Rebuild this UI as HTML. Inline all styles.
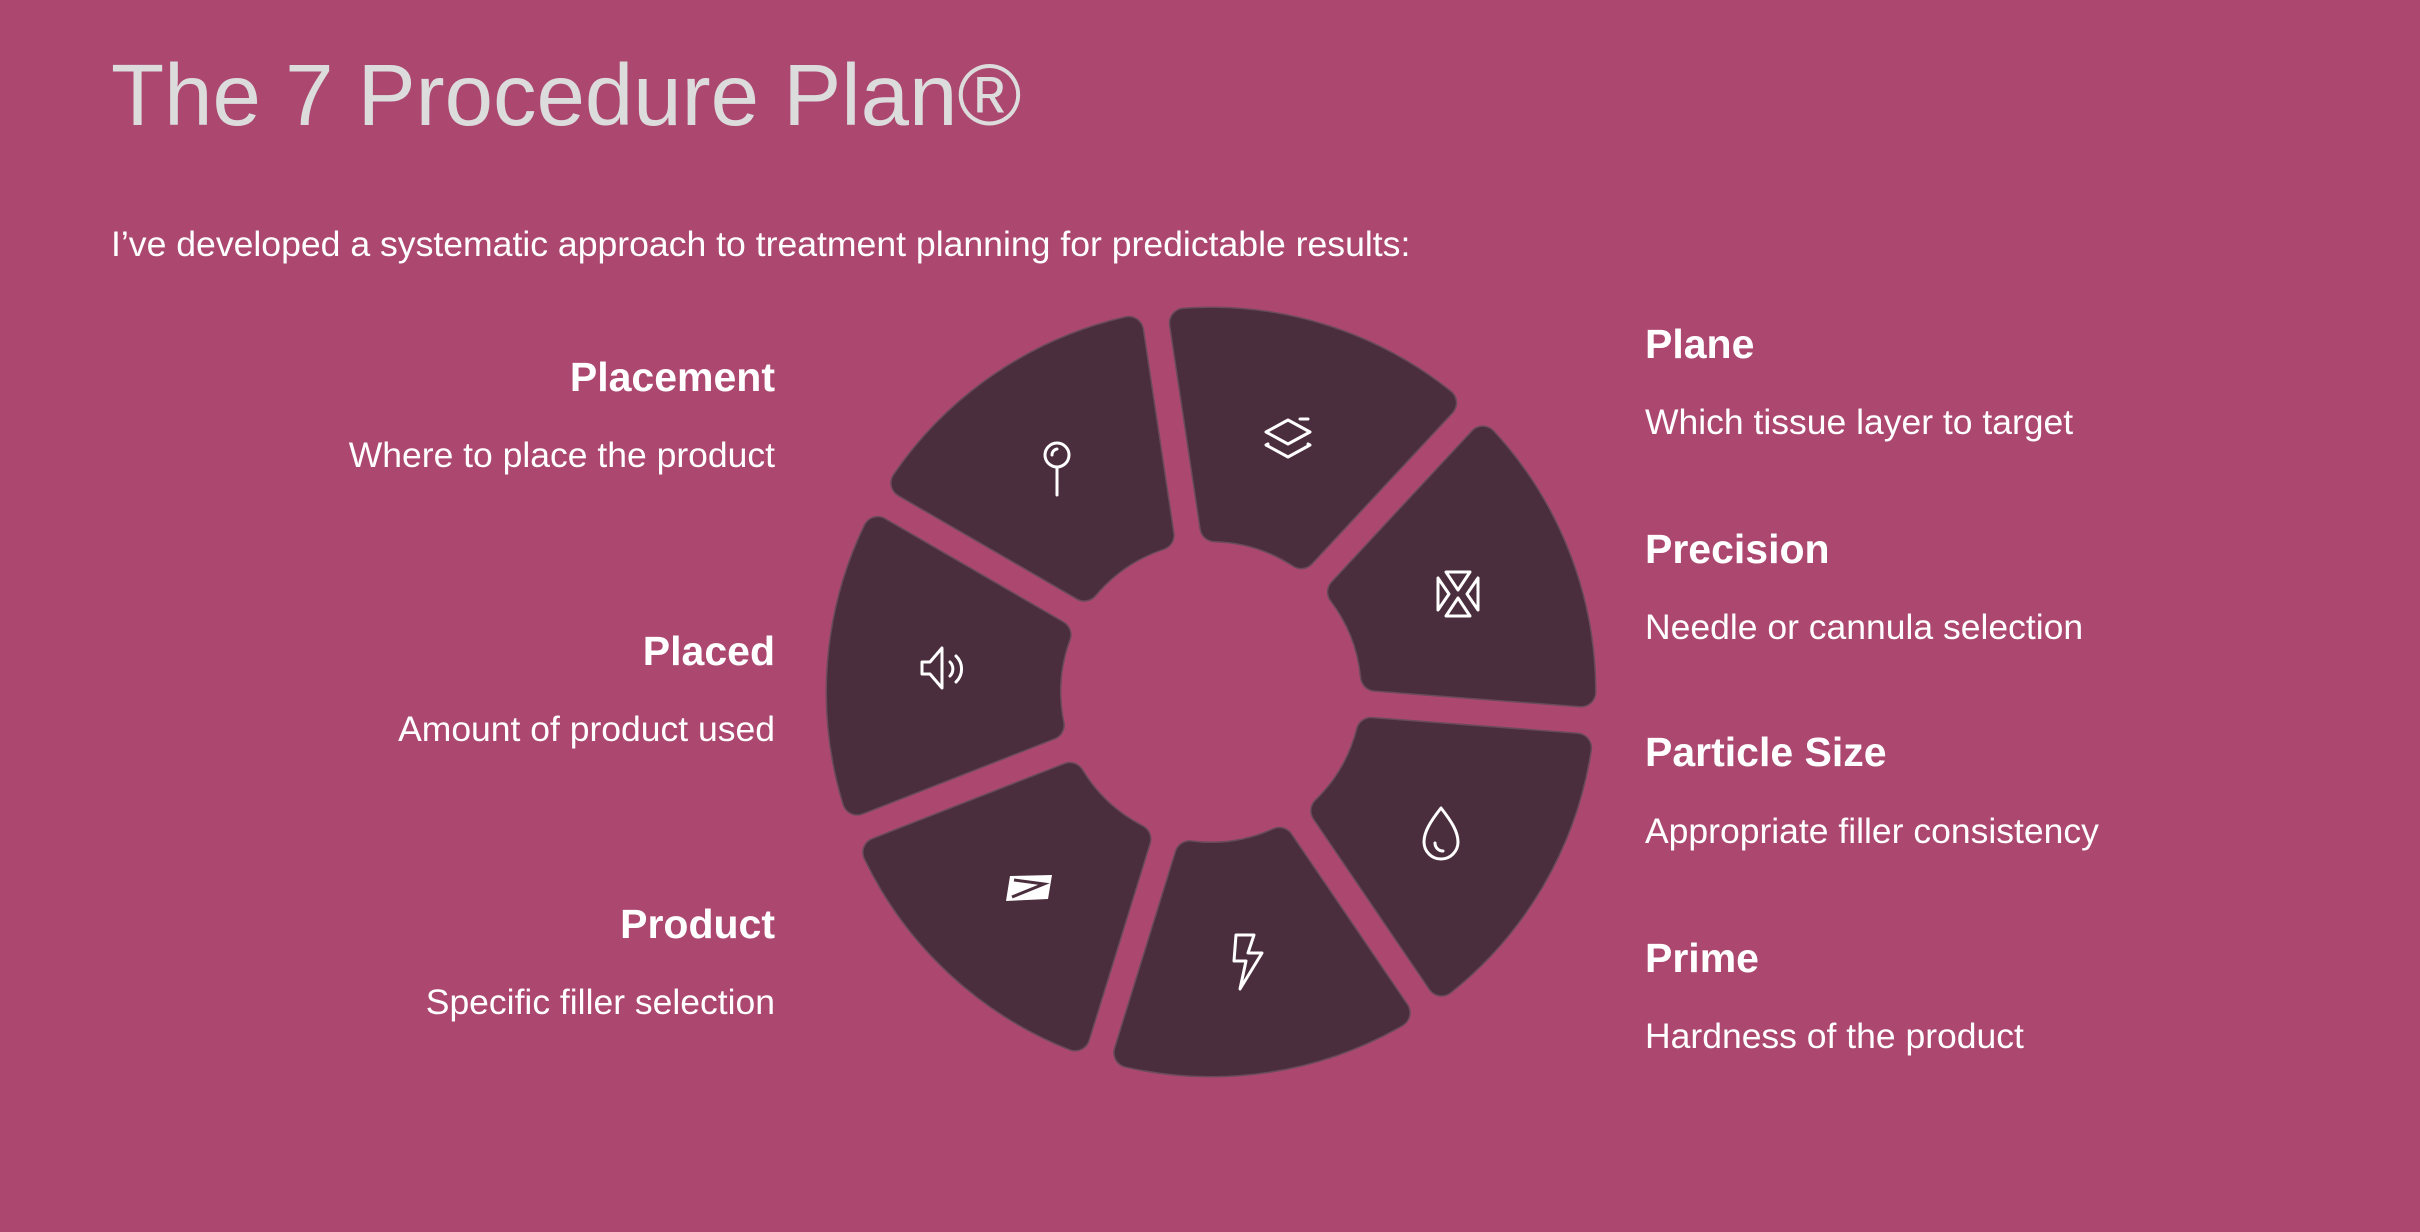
<!DOCTYPE html>
<html><head><meta charset="utf-8"><style>
html,body{margin:0;padding:0}
body{width:2420px;height:1232px;background:#ac4870;position:relative;overflow:hidden;font-family:"Liberation Sans",sans-serif;color:#fff}
.t{position:absolute;white-space:nowrap}
.h{font-size:41px;font-weight:bold}
.d{font-size:35.5px}
.l{right:1645px}
.r{left:1645px}
</style></head><body>
<div class="t" style="left:111px;top:46px;font-size:87px;color:#dcdcdc">The 7 Procedure Plan®</div>
<div class="t" style="left:111px;top:224px;font-size:35.6px">I’ve developed a systematic approach to treatment planning for predictable results:</div>

<div class="t h" style="right:1645px;top:354px">Placement</div>
<div class="t d" style="right:1645px;top:435px">Where to place the product</div>
<div class="t h" style="right:1645px;top:628px">Placed</div>
<div class="t d" style="right:1645px;top:709px">Amount of product used</div>
<div class="t h" style="right:1645px;top:901px">Product</div>
<div class="t d" style="right:1645px;top:982px">Specific filler selection</div>

<div class="t h r" style="top:321px">Plane</div>
<div class="t d r" style="top:402px">Which tissue layer to target</div>
<div class="t h r" style="top:526px">Precision</div>
<div class="t d r" style="top:607px">Needle or cannula selection</div>
<div class="t h r" style="top:729px">Particle Size</div>
<div class="t d r" style="top:811px">Appropriate filler consistency</div>
<div class="t h r" style="top:935px">Prime</div>
<div class="t d r" style="top:1016px">Hardness of the product</div>

<svg id="w" width="2420" height="1232" style="position:absolute;left:0;top:0">
<g id="segs"></g>
<g fill="none" stroke="#fff" stroke-width="3" stroke-linecap="round" stroke-linejoin="round">
 <circle cx="1057" cy="455" r="12"/><line x1="1057" y1="467" x2="1057" y2="495"/><path d="M1052 455 a6 6 0 0 1 5 -6"/>
 <path d="M1266 432 l22 -12 l22 12 l-22 12 z"/><path d="M1268 444 l-2 1 l22 12 l22 -12 l-2 -1"/><line x1="1300" y1="419" x2="1308" y2="419"/>
 <path d="M1446 572 h24 l-12 18 z M1446 616 h24 l-12 -18 z M1438 578 v32 l11 -16 z M1478 578 v32 l-11 -16 z"/>
 <path d="M1441 808 C1430 822 1424 832 1424 842 a17 17 0 0 0 34 0 C1458 832 1452 822 1441 808 z"/><path d="M1435 843 a8 8 0 0 0 8 8"/>
 <path d="M1236 935 h18 l-6 18 h14 l-22 36 l6 -28 h-12 z"/>
 <path d="M922 662 h8 l12 -14 v40 l-12 -14 h-8 z"/><path d="M950 662 a10 10 0 0 1 0 14"/><path d="M956 656 a18 18 0 0 1 0 26"/>
</g>
<path d="M1010 876 l42 -1 l-4 24 l-42 2 z" fill="#fff"/>
<path d="M1014 880 l30 4 l-32 13" fill="none" stroke="#4b2e3d" stroke-width="3"/>
</svg>
<script>
var cx=1211,cy=692,R=384,r=151,rr=14,h=28,ro=R-rr,ri=r+rr;
var g='',d2r=Math.PI/180;
function pt(th,rho,off,sgn){var t=Math.sqrt(rho*rho-off*off),a=th*d2r;var ux=Math.sin(a),uy=-Math.cos(a),nx=Math.cos(a)*sgn,ny=Math.sin(a)*sgn;return [(cx+t*ux+off*nx).toFixed(1),(cy+t*uy+off*ny).toFixed(1)];}
var paths=[];
for(var k=0;k<7;k++){var a1=-8.5+k*360/7,a2=a1+360/7;
var o1=pt(a1,ro,h,1),o2=pt(a2,ro,h,-1),i2=pt(a2,ri,h,-1),i1=pt(a1,ri,h,1);
paths.push('M'+o1+' A'+ro+' '+ro+' 0 0 1 '+o2+' L'+i2+' A'+ri+' '+ri+' 0 0 0 '+i1+' Z');}
paths.forEach(function(p){g+='<path d="'+p+'" fill="#6a4a5c" stroke="#6a4a5c" stroke-width="'+(2*rr+3)+'" stroke-linejoin="round"/>';});
paths.forEach(function(p){g+='<path d="'+p+'" fill="#4b2e3d" stroke="#4b2e3d" stroke-width="'+(2*rr)+'" stroke-linejoin="round"/>';});
document.getElementById('segs').innerHTML=g;
</script>
</body></html>
